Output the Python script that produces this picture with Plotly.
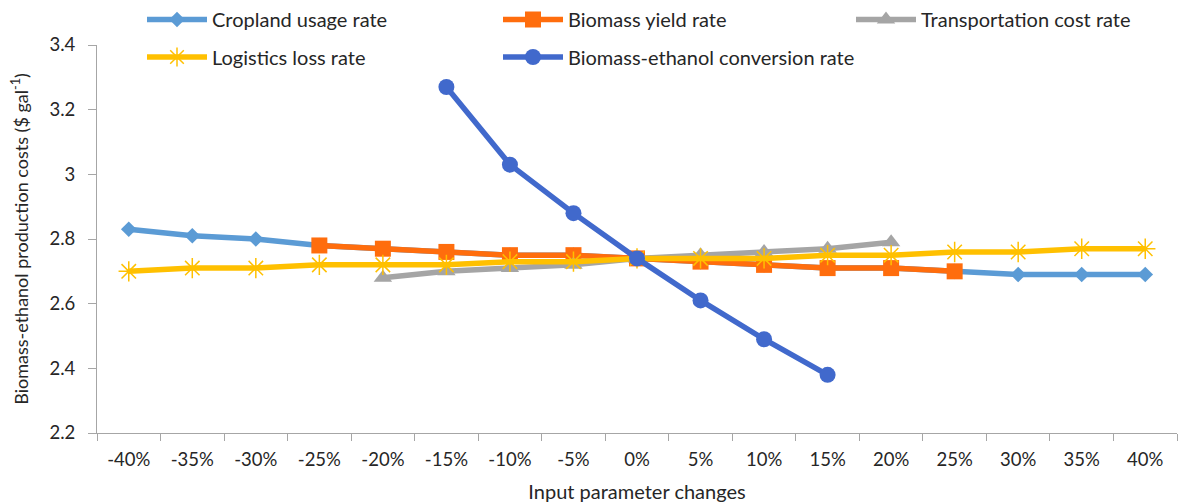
import plotly.graph_objects as go

# Percentage change applied to each input parameter
changes = ["-40%", "-35%", "-30%", "-25%", "-20%", "-15%", "-10%", "-5%", "0%",
           "5%", "10%", "15%", "20%", "25%", "30%", "35%", "40%"]

# Production cost ($/gal) for each sensitivity series
cropland_x = changes
cropland_y = [2.83, 2.81, 2.80, 2.78, 2.77, 2.76, 2.75, 2.75, 2.74,
              2.73, 2.72, 2.71, 2.71, 2.70, 2.69, 2.69, 2.69]

yield_x = changes[3:14]
yield_y = [2.78, 2.77, 2.76, 2.75, 2.75, 2.74, 2.73, 2.72, 2.71, 2.71, 2.70]

transport_x = changes[4:13]
transport_y = [2.68, 2.70, 2.71, 2.72, 2.74, 2.75, 2.76, 2.77, 2.79]

logistics_x = changes
logistics_y = [2.70, 2.71, 2.71, 2.72, 2.72, 2.72, 2.73, 2.73, 2.74,
               2.74, 2.74, 2.75, 2.75, 2.76, 2.76, 2.77, 2.77]

conversion_x = changes[5:12]
conversion_y = [3.27, 3.03, 2.88, 2.74, 2.61, 2.49, 2.38]

FONT = "Lato"
TEXT = "#262626"
AXIS = "#A6A6A6"
L, R, T, B = 97, 1, 44, 71
W, H = 1178, 504
plot_w = W - L - R
plot_h = H - T - B


def px_x(px):
    return (px - L) / plot_w


def px_y(py):
    return (H - B - py) / plot_h


fig = go.Figure()

# name, x, y, colour, marker, legend id, legend text start (px), legend row centre (px)
series = {
    "cropland": ("Cropland usage rate", cropland_x, cropland_y, "#5B9BD5",
                 dict(symbol="diamond", size=12), "legend", 213, 19),
    "yield": ("Biomass yield rate", yield_x, yield_y, "#FF6D0D",
              dict(symbol="square", size=16), "legend2", 569, 19),
    "transport": ("Transportation cost rate", transport_x, transport_y, "#A5A5A5",
                  dict(symbol="triangle-up", size=16), "legend3", 922, 19),
    "logistics": ("Logistics loss rate", logistics_x, logistics_y, "#FFC000",
                  dict(symbol="asterisk-open", size=17,
                       line=dict(width=1.5, color="#FFC000")), "legend4", 213, 57),
    "conversion": ("Biomass-ethanol conversion rate", conversion_x, conversion_y, "#4169CC",
                   dict(symbol="circle", size=16), "legend5", 569, 57),
}

legends = {}
for key in ["cropland", "yield", "transport", "logistics", "conversion"]:
    name, xs, ys, color, marker, lg, tx, ty = series[key]
    fig.add_trace(go.Scatter(
        x=xs, y=ys, name=name, mode="lines+markers",
        line=dict(color=color, width=5.5),
        marker=dict(color=color, **marker), legend=lg, showlegend=True,
    ))
    legends[lg] = dict(
        x=px_x(tx - 71), y=px_y(ty), xanchor="left", yanchor="middle",
        bgcolor="rgba(0,0,0,0)", font=dict(family=FONT, size=20, color=TEXT),
        itemwidth=60, borderwidth=0,
    )

fig.update_layout(
    width=W, height=H,
    margin=dict(l=L, r=R, t=T, b=B),
    plot_bgcolor="white", paper_bgcolor="white",
    showlegend=True,
    font=dict(family=FONT, size=18, color=TEXT),
    xaxis=dict(
        type="category", categoryorder="array", categoryarray=changes,
        range=[-0.5, 16.5], tickson="boundaries",
        ticks="outside", ticklen=7, tickcolor=AXIS,
        showline=True, linecolor=AXIS, linewidth=1,
        showgrid=False, zeroline=False, ticklabelstandoff=10,
        tickfont=dict(family=FONT, size=18.5, color=TEXT),
        title=dict(text="Input parameter changes", standoff=15,
                   font=dict(family=FONT, size=20, color=TEXT)),
    ),
    yaxis=dict(
        range=[2.2, 3.4], dtick=0.2, tickformat="~g",
        ticks="outside", ticklen=8, tickcolor=AXIS,
        showline=True, linecolor=AXIS, linewidth=1,
        showgrid=False, zeroline=False, ticklabelstandoff=9,
        tickfont=dict(family=FONT, size=18.5, color=TEXT),
        title=dict(text="Biomass-ethanol production costs ($ gal<sup>-1</sup>)",
                   standoff=16, font=dict(family=FONT, size=18, color=TEXT)),
    ),
    **legends,
)

fig.write_html("out.html")
